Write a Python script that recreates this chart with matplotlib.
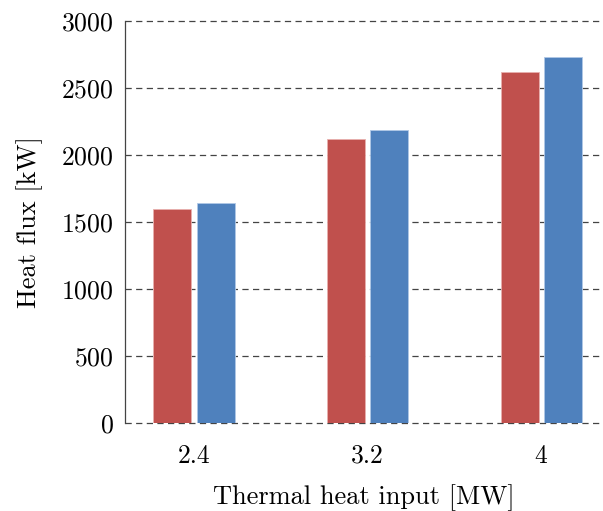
import matplotlib
matplotlib.use("Agg")
import matplotlib.pyplot as plt
import numpy as np

plt.rcParams["font.family"] = "serif"
plt.rcParams["font.serif"] = ["cmr10"]
plt.rcParams["mathtext.fontset"] = "cm"
plt.rcParams["axes.formatter.use_mathtext"] = True

categories = ["2.4", "3.2", "4"]
series_a = [1600, 2120, 2620]
series_b = [1640, 2190, 2730]
y_ticks = [0, 500, 1000, 1500, 2000, 2500, 3000]

red = "#c0504d"
blue = "#4f81bd"

fig = plt.figure(figsize=(6.03, 5.11), dpi=100)
ax = fig.add_axes([125 / 603, 88 / 511, 478 / 603, 402 / 511])

x = np.arange(len(categories))
w = 0.219
off = 0.124
ax.bar(x - off, series_a, width=w, color=red, edgecolor="#e8b0ae", linewidth=0.6, zorder=3)
ax.bar(x + off, series_b, width=w, color=blue, edgecolor="#b0c8e6", linewidth=0.6, zorder=3)

ax.set_xlim(-0.3977, 2.357)
ax.set_ylim(0, 3000)
ax.set_yticks(y_ticks)
ax.set_xticks(x)
ax.set_xticklabels(categories)

for v in y_ticks:
    ax.axhline(v, color="#444444", linestyle=(0, (5, 3.5)), linewidth=0.9,
               zorder=1, clip_on=False)

for s in ["top", "right", "bottom"]:
    ax.spines[s].set_visible(False)
ax.spines["left"].set_color("#444444")
ax.spines["left"].set_linewidth(0.9)

ax.tick_params(axis="both", length=0, labelsize=18.5)
ax.tick_params(axis="y", pad=8)
ax.tick_params(axis="x", pad=15)

ax.set_xlabel("Thermal heat input [MW]", fontsize=19, labelpad=12)
ax.set_ylabel("Heat flux [kW]", fontsize=19, labelpad=13)

fig.savefig("out.png", dpi=100)
